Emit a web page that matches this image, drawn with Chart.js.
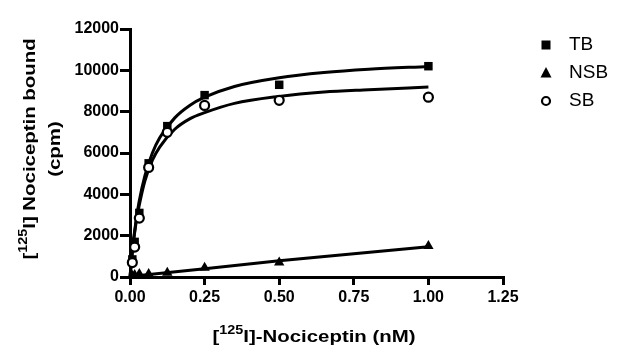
<!DOCTYPE html>
<html>
<head>
<meta charset="utf-8">
<script src="https://cdn.jsdelivr.net/npm/chart.js@4"></script>
<style>
  html, body { margin: 0; padding: 0; background: #fff; }
  #wrap { width: 620px; height: 360px; position: relative; }
</style>
</head>
<body>
<div id="wrap"><canvas id="c" width="620" height="360"></canvas></div>
<script>
// Measured concentrations (nM)
const conc = [0.0078, 0.0156, 0.03125, 0.0625, 0.125, 0.25, 0.5, 1.0];
// Measured binding (cpm)
const tbValues  = [850, 1700, 3100, 5500, 7300, 8800, 9300, 10200];
const nsbValues = [60, 100, 150, 150, 200, 450, 700, 1500];
const sbValues  = [700, 1450, 2850, 5300, 7000, 8300, 8550, 8700];

// Fitted curves
const curveX    = [0, 0.01, 0.02, 0.03, 0.05, 0.075, 0.1, 0.15, 0.2, 0.25, 0.35, 0.5, 0.65, 0.8, 1.0];
const tbCurve   = [0, 1550, 2700, 3600, 4900, 6000, 6750, 7700, 8300, 8700, 9220, 9640, 9890, 10050, 10190];
const sbCurve   = [0, 1500, 2600, 3400, 4650, 5650, 6300, 7150, 7650, 7950, 8400, 8740, 8950, 9060, 9190];
const nsbLineX  = [0, 0.25, 0.5, 1.0];
const nsbLine   = [20, 400, 790, 1460];

const xTicks = [0, 0.25, 0.5, 0.75, 1.0, 1.25];
const yTicks = [0, 2000, 4000, 6000, 8000, 10000, 12000];

const legendItems = [
  { label: 'TB',  style: 'rect' },
  { label: 'NSB', style: 'triangle' },
  { label: 'SB',  style: 'circle' }
];

const pts = (xs, ys) => xs.map((x, i) => ({ x: x, y: ys[i] }));

function drawMarker(ctx, style, x, y) {
  ctx.save();
  ctx.fillStyle = '#000';
  ctx.strokeStyle = '#000';
  if (style === 'rect') {
    ctx.fillRect(x - 4.5, y - 4.5, 9, 9);
  } else if (style === 'triangle') {
    ctx.beginPath();
    ctx.moveTo(x, y - 6);
    ctx.lineTo(x + 5.5, y + 4.5);
    ctx.lineTo(x - 5.5, y + 4.5);
    ctx.closePath();
    ctx.fill();
  } else {
    ctx.fillStyle = '#fff';
    ctx.lineWidth = 2.2;
    ctx.beginPath();
    ctx.arc(x, y, 4, 0, Math.PI * 2);
    ctx.fill();
    ctx.stroke();
  }
  ctx.restore();
}

// Draws bold text with superscript segments, horizontally stretched: parts = [[text, isSup], ...]
function drawRich(ctx, parts, cx, cy, size, stretch) {
  const normal = 'bold ' + size + 'px "Liberation Sans", Arial, sans-serif';
  const sup = 'bold ' + Math.round(size * 0.7) + 'px "Liberation Sans", Arial, sans-serif';
  let total = 0;
  parts.forEach(p => { ctx.font = p[1] ? sup : normal; total += ctx.measureText(p[0]).width; });
  ctx.save();
  ctx.translate(cx, cy);
  ctx.scale(stretch, 1);
  let x = -total / 2;
  ctx.textBaseline = 'middle';
  ctx.textAlign = 'left';
  parts.forEach(p => {
    ctx.font = p[1] ? sup : normal;
    ctx.fillText(p[0], x, p[1] ? -size * 0.4 : 0);
    x += ctx.measureText(p[0]).width;
  });
  ctx.restore();
}

const decor = {
  id: 'decor',
  afterDraw(chart) {
    const ctx = chart.ctx;
    ctx.save();
    ctx.fillStyle = '#000';
    // x title
    drawRich(ctx, [['[', false], ['125', true], ['I]-Nociceptin (nM)', false]], 314, 337, 17, 1.2);
    // y title
    ctx.save();
    ctx.translate(30, 149);
    ctx.rotate(-Math.PI / 2);
    drawRich(ctx, [['[', false], ['125', true], ['I] Nociceptin bound', false]], 0, 0, 17, 1.2);
    ctx.restore();
    ctx.save();
    ctx.translate(55, 149);
    ctx.rotate(-Math.PI / 2);
    drawRich(ctx, [['(cpm)', false]], 0, 0, 17, 1.2);
    ctx.restore();
    // legend
    ctx.font = '19px "Liberation Sans", Arial, sans-serif';
    ctx.textBaseline = 'middle';
    ctx.textAlign = 'left';
    legendItems.forEach((it, i) => {
      const y = 45 + i * 28;
      drawMarker(ctx, it.style, 546, y);
      ctx.fillStyle = '#000';
      ctx.fillText(it.label, 569, y);
    });
    ctx.restore();
  }
};

const lineDs = (data) => ({
  type: 'line', data: data, showLine: true, borderColor: '#000', borderWidth: 3,
  pointRadius: 0, cubicInterpolationMode: 'monotone', fill: false, clip: false, order: 2
});

new Chart(document.getElementById('c'), {
  type: 'scatter',
  data: {
    datasets: [
      lineDs(pts(curveX, tbCurve)),
      lineDs(pts(curveX, sbCurve)),
      Object.assign(lineDs(pts(nsbLineX, nsbLine)), { cubicInterpolationMode: 'default', tension: 0 }),
      { label: 'TB', data: pts(conc, tbValues), pointStyle: 'rect', pointRadius: 6,
        backgroundColor: '#000', borderColor: '#000', borderWidth: 0, clip: false, order: 1 },
      { label: 'NSB', data: pts(conc, nsbValues), pointStyle: 'triangle', pointRadius: 6,
        backgroundColor: '#000', borderColor: '#000', borderWidth: 0, clip: false, order: 1 },
      { label: 'SB', data: pts(conc, sbValues), pointStyle: 'circle', pointRadius: 4.5,
        backgroundColor: '#fff', borderColor: '#000', borderWidth: 2.2, clip: false, order: 0 }
    ]
  },
  options: {
    responsive: false,
    animation: false,
    layout: { padding: { left: 0, top: 29, right: 117, bottom: 0 } },
    plugins: { legend: { display: false }, tooltip: { enabled: false } },
    scales: {
      x: {
        type: 'linear', min: 0, max: 1.25,
        afterFit(s) { s.height = 83; },
        afterBuildTicks(s) { s.ticks = xTicks.map(v => ({ value: v })); },
        ticks: { color: '#000', padding: 3, font: { family: '"Liberation Sans", Arial, sans-serif', size: 16, weight: 'bold' },
                 callback: v => Number(v).toFixed(2), maxRotation: 0, autoSkip: false },
        grid: { drawOnChartArea: false, drawTicks: true, tickLength: 8, color: '#000', lineWidth: 3 },
        border: { display: true, color: '#000', width: 3 }
      },
      y: {
        type: 'linear', min: 0, max: 12000,
        afterFit(s) { s.width = 130; },
        afterBuildTicks(s) { s.ticks = yTicks.map(v => ({ value: v })); },
        ticks: { color: '#000', padding: 1, font: { family: '"Liberation Sans", Arial, sans-serif', size: 16, weight: 'bold' },
                 callback: v => String(v), autoSkip: false },
        grid: { drawOnChartArea: false, drawTicks: true, tickLength: 10, color: '#000', lineWidth: 3 },
        border: { display: true, color: '#000', width: 3 }
      }
    }
  },
  plugins: [decor]
});
</script>
</body>
</html>
